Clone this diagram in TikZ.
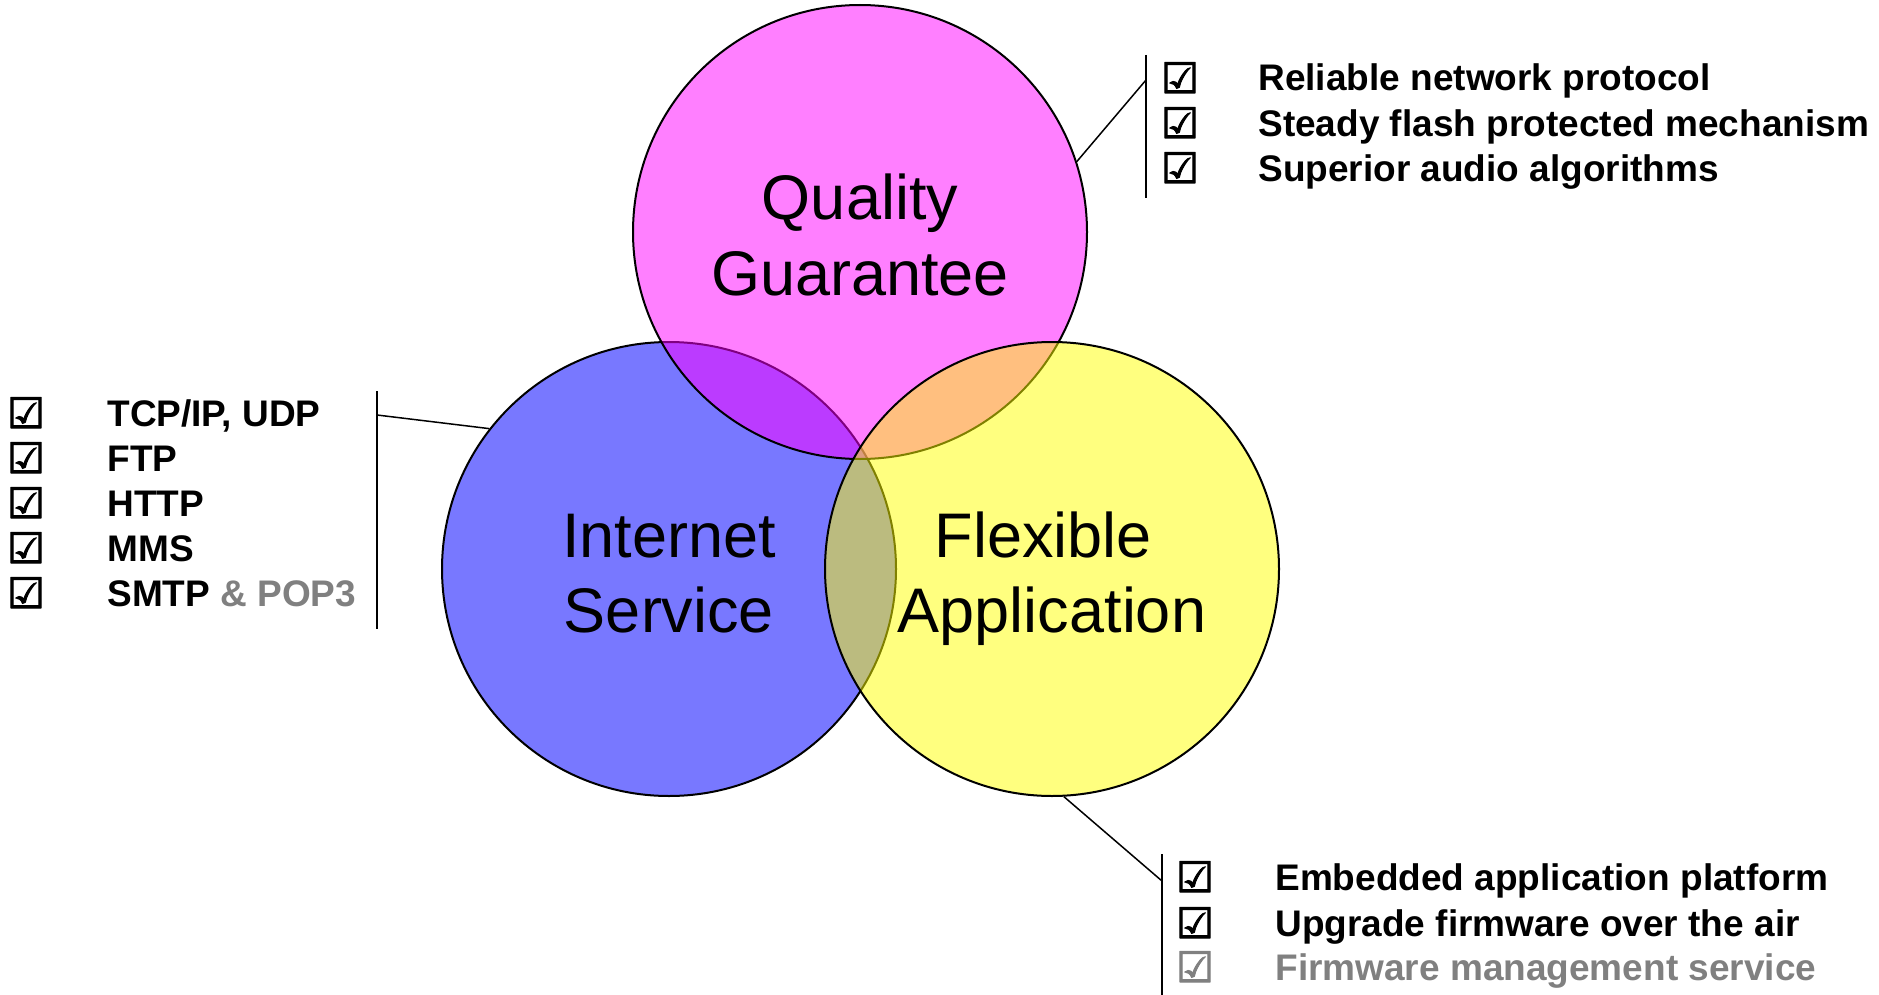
\documentclass[tikz,border=0pt]{standalone}
\usepackage{fontspec}
\setmainfont{Liberation Sans}
\newfontfamily\symfont{DejaVu Sans}[FakeBold=2.5]
\definecolor{blueC}{RGB}{120,120,255}
\definecolor{magC}{RGB}{255,0,255}
\definecolor{yelC}{RGB}{255,255,0}
\definecolor{grayT}{RGB}{128,128,128}
\begin{document}
\begin{tikzpicture}[x=0.5pt,y=-0.5pt,
  venn/.style={circle, draw=black, line width=1pt, minimum size=227pt, inner sep=0pt},
  big/.style={font=\fontsize{31.5}{36.5}\selectfont, anchor=base, inner sep=0pt},
  item/.style={font=\bfseries\fontsize{18.5}{22}\selectfont, anchor=base west, inner sep=0pt},
  cb/.style={font=\symfont\fontsize{21}{21}\selectfont, anchor=base, inner sep=0pt},
  lead/.style={line width=0.75pt}]
\useasboundingbox (0,0) rectangle (1879,995);
% circles
\node[venn, fill=blueC] (inet) at (669,569) {};
\node[venn, fill=magC, fill opacity=0.5] (qual) at (860,232) {};
\node[venn, fill=yelC, fill opacity=0.5] (flex) at (1052,569) {};
% circle labels
\node[big] (qual1) at (860,220) {Quality};
\node[big] (qual2) at (860,295) {Guarantee};
\node[big] (inet1) at (669,557) {Internet};
\node[big] (inet2) at (669,632) {Service};
\node[big] (flex1) at (1052,557) {Flexible\hspace*{0.278em}};
\node[big] (flex2) at (1052,632) {Application};
% top-right list
\coordinate (qtop) at (1146,55);
\coordinate (qbot) at (1146,198);
\coordinate (qj) at (1146,80);
\draw[lead] (qtop) -- (qbot);
\draw[lead] (qual.18.6) -- (qj);
\node[cb] (qc1) at (1180,93) {☑};
\node[cb] (qc2) at (1180,138) {☑};
\node[cb] (qc3) at (1180,183) {☑};
\node[item] (qi1) at (1258,91) {Reliable network protocol};
\node[item] (qi2) at (1258,136) {Steady flash protected mechanism};
\node[item] (qi3) at (1258,181) {Superior audio algorithms};
% left list
\coordinate (itop) at (377,391);
\coordinate (ibot) at (377,629);
\coordinate (ij) at (377,415);
\draw[lead] (itop) -- (ibot);
\draw[lead] (inet.142.3) -- (ij);
\node[cb] (ic1) at (26,428) {☑};
\node[cb] (ic2) at (26,473) {☑};
\node[cb] (ic3) at (26,518) {☑};
\node[cb] (ic4) at (26,563) {☑};
\node[cb] (ic5) at (26,608) {☑};
\node[item] (ii1) at (107,426) {TCP/IP, UDP};
\node[item] (ii2) at (107,471) {FTP};
\node[item] (ii3) at (107,516) {HTTP};
\node[item] (ii4) at (107,561) {MMS};
\node[item] (ii5) at (107,606) {SMTP \textcolor{grayT}{\& POP3}};
% bottom-right list
\coordinate (ftop) at (1162,854);
\coordinate (fbot) at (1162,995);
\coordinate (fj) at (1162,881);
\draw[lead] (ftop) -- (fbot);
\draw[lead] (flex.-87.7) -- (fj);
\node[cb] (fc1) at (1195,892) {☑};
\node[cb] (fc2) at (1195,938) {☑};
\node[cb, text=grayT] (fc3) at (1195,982) {☑};
\node[item] (fi1) at (1275,890) {Embedded application platform};
\node[item] (fi2) at (1275,936) {Upgrade firmware over the air};
\node[item, text=grayT] (fi3) at (1275,980) {Firmware management service};
\end{tikzpicture}
\end{document}
